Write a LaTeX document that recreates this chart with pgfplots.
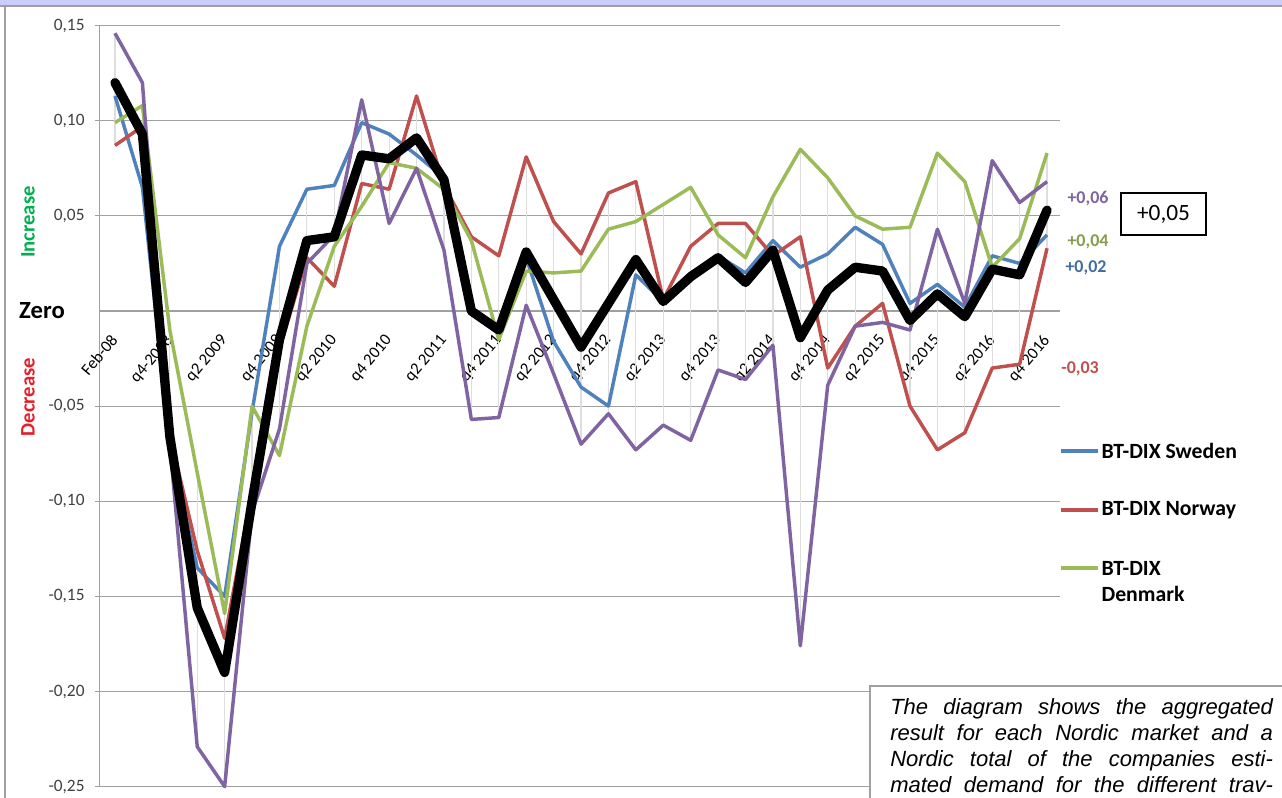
\documentclass[border=0pt]{standalone}
\usepackage{pgfplots}
\pgfplotsset{compat=1.18}
\usepackage{pgfplotstable}
\usepackage{fontspec}
\setmainfont{Carlito}
\newfontfamily\arialfont{Liberation Sans}
\definecolor{seC}{RGB}{79,129,189}
\definecolor{noC}{RGB}{192,80,77}
\definecolor{dkC}{RGB}{155,187,89}
\definecolor{fiC}{RGB}{128,100,162}
\definecolor{gridC}{RGB}{160,160,160}
\definecolor{hlC}{RGB}{222,222,222}
\definecolor{lavC}{RGB}{204,204,255}
\definecolor{incC}{RGB}{0,176,80}
\definecolor{decC}{RGB}{230,30,40}
\definecolor{tickC}{RGB}{64,64,64}

\pgfplotstableread{
i se no dk fi to
0 0.113 0.087 0.099 0.146 0.120
1 0.065 0.097 0.108 0.120 0.093
2 -0.070 -0.065 -0.010 -0.070 -0.066
3 -0.135 -0.126 -0.085 -0.229 -0.156
4 -0.150 -0.172 -0.159 -0.250 -0.190
5 -0.053 -0.095 -0.050 -0.106 -0.100
6 0.034 -0.020 -0.076 -0.062 -0.015
7 0.064 0.028 -0.008 0.025 0.037
8 0.066 0.013 0.034 0.040 0.039
9 0.099 0.067 0.055 0.111 0.082
10 0.093 0.064 0.078 0.046 0.080
11 0.082 0.113 0.075 0.075 0.091
12 0.070 0.066 0.064 0.032 0.069
13 0.000 0.039 0.037 -0.057 0.000
14 -0.010 0.029 -0.015 -0.056 -0.010
15 0.028 0.081 0.021 0.003 0.031
16 -0.016 0.047 0.020 -0.033 0.006
17 -0.040 0.030 0.021 -0.070 -0.019
18 -0.050 0.062 0.043 -0.054 0.004
19 0.019 0.068 0.047 -0.073 0.027
20 0.005 0.006 0.056 -0.060 0.005
21 0.020 0.034 0.065 -0.068 0.018
22 0.029 0.046 0.040 -0.031 0.028
23 0.020 0.046 0.028 -0.036 0.015
24 0.037 0.029 0.060 -0.018 0.032
25 0.023 0.039 0.085 -0.176 -0.014
26 0.030 -0.030 0.070 -0.039 0.011
27 0.044 -0.008 0.050 -0.008 0.023
28 0.035 0.004 0.043 -0.006 0.021
29 0.004 -0.050 0.044 -0.010 -0.005
30 0.014 -0.073 0.083 0.043 0.009
31 0.002 -0.064 0.068 0.004 -0.003
32 0.029 -0.030 0.023 0.079 0.022
33 0.025 -0.028 0.038 0.057 0.019
34 0.040 0.033 0.083 0.068 0.053
}\data

\begin{document}
\begin{tikzpicture}[x=0.75pt,y=0.75pt]
\useasboundingbox (0,0) rectangle (1282,798);
\clip (0,0) rectangle (1282,798);
\fill[white] (0,0) rectangle (1282,798);
\fill[lavC] (0,792) rectangle (1282,798);
\draw[gridC, line width=1pt] (0,792) -- (1282,792);
\draw[gridC, line width=1pt] (5,0) -- (5,792);

\begin{axis}[
  at={(86.25pt,365.25pt)}, anchor=origin,
  scale only axis, width=720pt, height=570.75pt,
  xmin=-0.55, xmax=34.47, ymin=-0.25, ymax=0.15,
  axis x line*=middle, axis y line*=left,
  axis line style={gridC, line width=0.8pt},
  ytick={-0.25,-0.2,-0.15,-0.1,-0.05,0.05,0.1,0.15},
  ymajorgrids, grid style={gridC, line width=0.8pt},
  xtick={0,2,...,34},
  xticklabels={Feb-08,q4-2008,q2 2009,q4 2009,q2 2010,q4 2010,q2 2011,q4 2011,q2 2012,q4 2012,q2 2013,q4 2013,q2 2014,q4 2014,q2 2015,q4 2015,q2 2016,q4 2016},
  xtick style={draw=none},
  ytick style={gridC, line width=0.8pt},
  tick align=outside, major tick length=4pt,
  xticklabel style={xshift=-4pt, yshift=-12.5pt, rotate=50, anchor=north east, inner sep=0pt, font=\fontsize{12.5}{14}\selectfont, text=black},
  yticklabel style={font=\fontsize{13}{15}\selectfont, text=tickC, xshift=-4pt},
  /pgf/number format/.cd, use comma, fixed, fixed zerofill, precision=2, assume math mode=true,
  /pgfplots/.cd,
  clip=false,
]
\addplot[draw=none, mark=none, forget plot,
  error bars/.cd, y dir=minus, y explicit, error mark=none,
  error bar style={hlC, line width=0.9pt}]
  table[x=i,
    y expr={max(\thisrow{se},\thisrow{no},\thisrow{dk},\thisrow{fi},\thisrow{to})},
    y error minus expr={max(\thisrow{se},\thisrow{no},\thisrow{dk},\thisrow{fi},\thisrow{to})-min(\thisrow{se},\thisrow{no},\thisrow{dk},\thisrow{fi},\thisrow{to})}]{\data};
\addplot[seC, line width=2.6pt, line join=round, mark=none] table[x=i,y=se]{\data};
\addplot[noC, line width=2.6pt, line join=round, mark=none] table[x=i,y=no]{\data};
\addplot[dkC, line width=2.6pt, line join=round, mark=none] table[x=i,y=dk]{\data};
\addplot[fiC, line width=2.6pt, line join=round, mark=none] table[x=i,y=fi]{\data};
\addplot[black, line width=7pt, line join=round, line cap=round, mark=none] table[x=i,y=to]{\data};
\end{axis}

% side labels
\node[rotate=90, text=incC, font=\bfseries\fontsize{15.5}{17}\selectfont] at (28,576) {Increase};
\node[text=black, font=\bfseries\fontsize{18.5}{20}\selectfont] at (42,487) {Zero};
\node[rotate=90, text=decC, font=\bfseries\fontsize{15.5}{17}\selectfont] at (28,401) {Decrease};

% end labels
\node[text=fiC, font=\bfseries\fontsize{13.5}{15}\selectfont] at (1088,599) {+0,06};
\node[text=dkC!85!black, font=\bfseries\fontsize{13.5}{15}\selectfont] at (1088,556) {+0,04};
\node[text=seC!85!black, font=\bfseries\fontsize{13.5}{15}\selectfont] at (1086,530) {+0,02};
\node[text=noC, font=\bfseries\fontsize{13.5}{15}\selectfont] at (1080,429) {-0,03};
\draw[black, line width=0.8pt] (1121,563) rectangle (1206,605);
\node[font=\fontsize{17.5}{19}\selectfont] at (1163.5,584) {+0,05};

% legend
\draw[seC, line width=2.5pt] (1061,347) -- (1098,347);
\node[anchor=west, font=\bfseries\fontsize{16.3}{18}\selectfont, inner sep=1pt] at (1100,347) {BT-DIX Sweden};
\draw[noC, line width=2.5pt] (1061,288) -- (1098,288);
\node[anchor=west, font=\bfseries\fontsize{16.3}{18}\selectfont, inner sep=1pt] at (1100,288) {BT-DIX Norway};
\draw[dkC, line width=2.5pt] (1061,230) -- (1098,230);
\node[anchor=west, font=\bfseries\fontsize{16.3}{18}\selectfont, inner sep=1pt] at (1100,230) {BT-DIX};
\node[anchor=west, font=\bfseries\fontsize{16.3}{18}\selectfont, inner sep=1pt] at (1100,204) {Denmark};

% description box
\draw[gridC, line width=1pt, fill=white] (870,-20) rectangle (1300,112);
\node[anchor=north west, inner sep=0pt, align=left, font=\arialfont\itshape\fontsize{16.5}{19.5}\selectfont] at (890,100) {%
\makebox[287pt][s]{The diagram shows the aggregated}\\
\makebox[287pt][s]{result for each Nordic market and a}\\
\makebox[287pt][s]{Nordic total of the companies esti-}\\
\makebox[287pt][s]{mated demand for the different trav-}};
\end{tikzpicture}
\end{document}
